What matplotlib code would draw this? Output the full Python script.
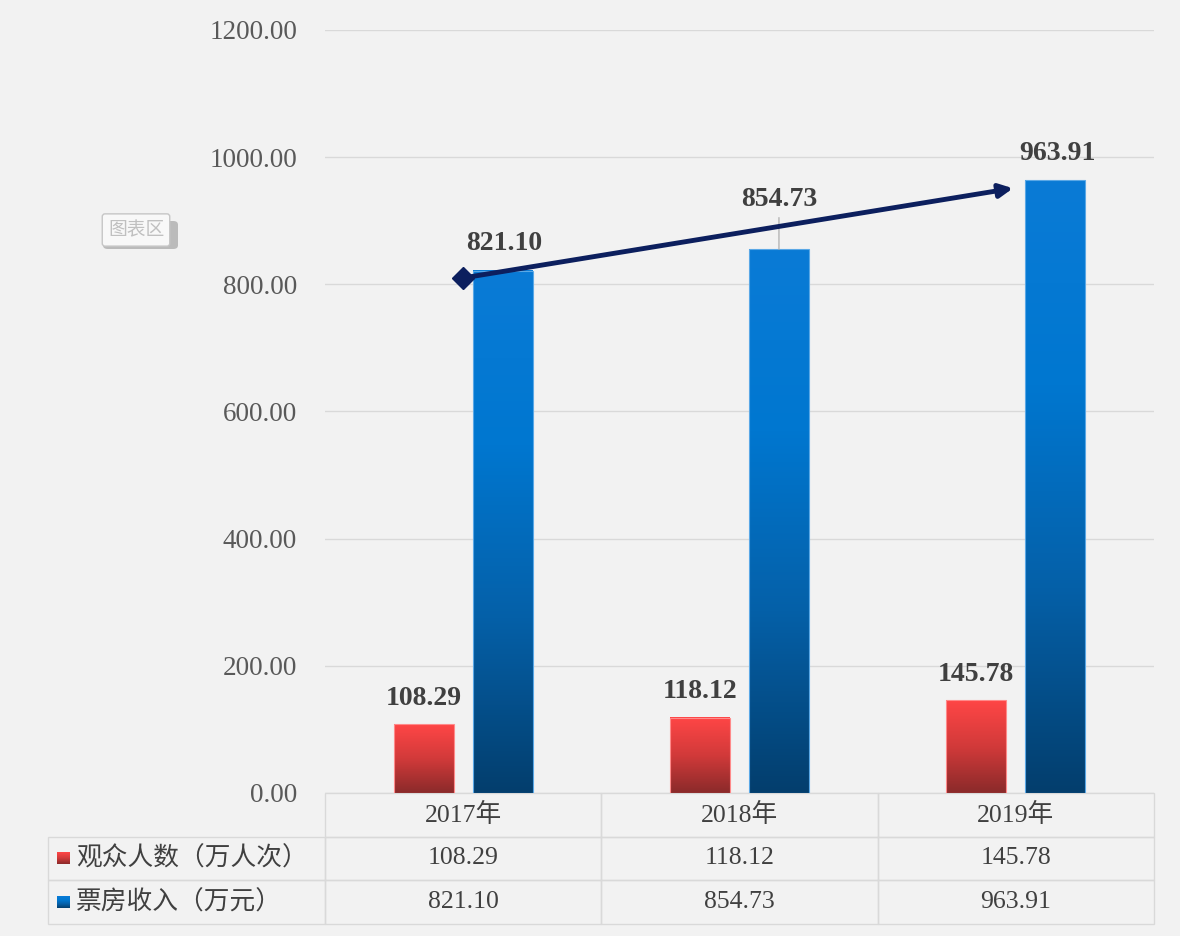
import numpy as np
import matplotlib.pyplot as plt
from matplotlib.colors import LinearSegmentedColormap
from matplotlib.patches import FancyBboxPatch

# data
years = ['2017年', '2018年', '2019年']
audience = [108.29, 118.12, 145.78]    # 观众人数（万人次）
boxoffice = [821.10, 854.73, 963.91]   # 票房收入（万元）
series_names = ['观众人数（万人次）', '票房收入（万元）']
yticks = [0, 200, 400, 600, 800, 1000, 1200]
# hand drawn trend arrow (data coords)
trend_x = [0.0, 1.99]
trend_y = [810, 951]

plt.rcParams['font.family'] = ['Liberation Serif', 'Noto Sans CJK SC', 'DejaVu Sans']

bg = '#f2f2f2'
fig = plt.figure(figsize=(11.8, 9.36), dpi=100, facecolor=bg)
ax = fig.add_axes([0.2754, 0.1528, 0.7025, 0.8152], facecolor=bg)

reds = LinearSegmentedColormap.from_list('reds', ['#8a2a2a', '#d23a3a', '#ff4646'])
blues = LinearSegmentedColormap.from_list('blues', ['#033e6d', '#0560a8', '#0077d0', '#0a7bd6'])
grad = np.linspace(0, 1, 256).reshape(-1, 1)

x = np.arange(len(years))
w = 0.217
off = 0.143

bars_r = ax.bar(x - off, audience, w, color='none', edgecolor='#ff8a8a', linewidth=0.8, zorder=3)
bars_b = ax.bar(x + off, boxoffice, w, color='none', edgecolor='#5aa8e6', linewidth=0.8, zorder=3)

def fill_gradient(bars, cmap):
    for b in bars:
        x0, w0, h0 = b.get_x(), b.get_width(), b.get_height()
        ax.imshow(grad, cmap=cmap, origin='lower', aspect='auto',
                  extent=[x0, x0 + w0, 0, h0], zorder=2)

fill_gradient(bars_r, reds)
fill_gradient(bars_b, blues)

# value labels
lab_kw = dict(textcoords='offset pixels', ha='center', va='center',
              fontsize=20, fontweight='bold', color='#404040', zorder=5)
for xi, v in zip(x - off, audience):
    ax.annotate(f'{v:.2f}', xy=(xi, v), xytext=(0, 26), **lab_kw)
lift_b = [27, 50, 27]
for xi, v, d in zip(x + off, boxoffice, lift_b):
    if d > 27:
        ax.annotate(f'{v:.2f}', xy=(xi, v), xytext=(0, d),
                    arrowprops=dict(arrowstyle='-', color='#a6a6a6', lw=0.8,
                                    shrinkA=2, shrinkB=0), **lab_kw)
    else:
        ax.annotate(f'{v:.2f}', xy=(xi, v), xytext=(2, d), **lab_kw)

# trend arrow
ax.annotate('', xy=(trend_x[1], trend_y[1]), xytext=(trend_x[0], trend_y[0]),
            arrowprops=dict(arrowstyle='-|>', color='#0c1f5e', lw=3.5,
                            mutation_scale=20, shrinkA=0, shrinkB=0), zorder=6)
ax.plot(trend_x[:1], trend_y[:1], marker='D', markersize=11, color='#0c1f5e', zorder=6)

ax.set_xticks([])
ax.set_yticks(yticks)
ax.set_yticklabels([f'{t:.2f}' for t in yticks])
ax.tick_params(axis='y', length=0, pad=20, labelsize=19.5, labelcolor='#595959')
ax.grid(axis='y', color='#d9d9d9', linewidth=1, zorder=0)
ax.set_axisbelow(True)
for s in ax.spines.values():
    s.set_visible(False)

# data table below
cell_text = [[''] + years,
             [series_names[0]] + [f'{v:.2f}' for v in audience],
             [series_names[1]] + [f'{v:.2f}' for v in boxoffice]]
tab_h = 0.1717
tab = ax.table(cellText=cell_text, cellLoc='center', colWidths=[277, 276, 276, 276],
               bbox=[-0.3341, -tab_h, 1.3341, tab_h])
tab.auto_set_font_size(False)
tab.set_fontsize(18.5)
for (r, c), cell in tab.get_celld().items():
    cell.set_edgecolor('#d9d9d9')
    cell.set_facecolor('none')
    cell.set_linewidth(1)
    cell.get_text().set_color('#404040')
    if r == 0 and c == 0:
        cell.visible_edges = ''
    if c == 0 and r > 0:
        cell.get_text().set_horizontalalignment('left')

# legend keys in row labels
rh = tab_h / 3
for i, cmap in enumerate([reds, blues]):
    yc = -rh * (1.5 + i)
    ax.imshow(grad, cmap=cmap, origin='lower', aspect='auto',
              extent=[-0.3233, -0.3088, yc - 0.0075, yc + 0.0075],
              transform=ax.transAxes, clip_on=False, zorder=4)

ax.set_xlim(-0.5, 2.5)
ax.set_ylim(0, 1200)

# excel tooltip
shadow = FancyBboxPatch((103 / 1180, 1 - 249 / 936), 75 / 1180, 28 / 936,
                        boxstyle='round,pad=0,rounding_size=0.004',
                        transform=fig.transFigure, facecolor='#8f8f8f',
                        edgecolor='none', alpha=0.55)
fig.patches.append(shadow)
fig.text(136 / 1180, 1 - 230 / 936, '图表区', fontsize=13.5, color='#c0c0c0',
         family='Noto Sans CJK SC', ha='center', va='center',
         bbox=dict(boxstyle='round,pad=0.3,rounding_size=0.15', facecolor='#f8f8f8',
                   edgecolor='#c6c6c6', linewidth=1))

plt.savefig('out.png', dpi=100, facecolor=bg)
